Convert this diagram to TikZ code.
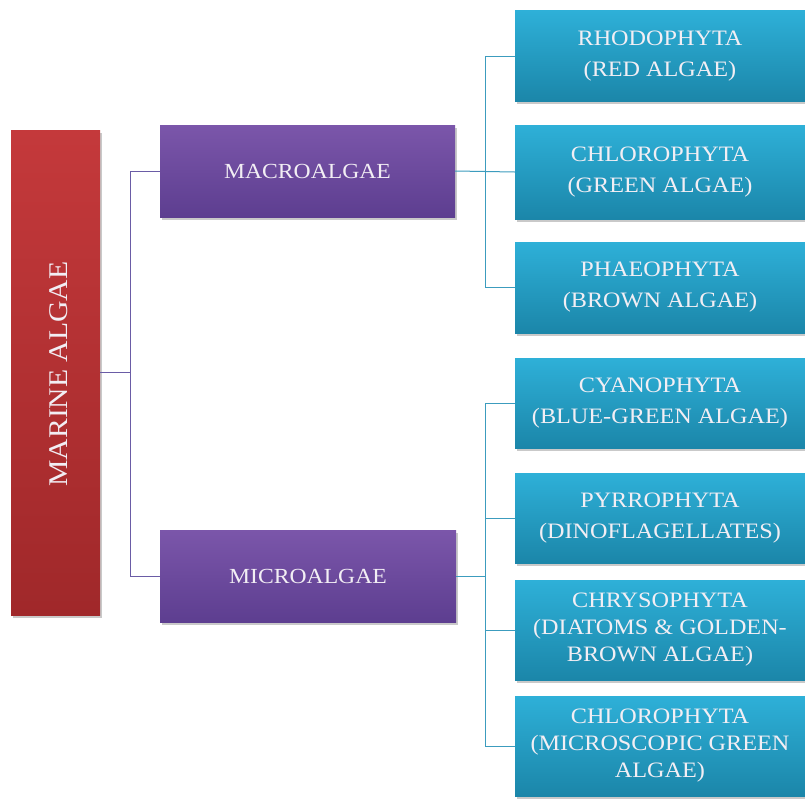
\documentclass[tikz,border=0pt]{standalone}
\usepackage{fontspec}
\setmainfont{Liberation Serif}[FakeStretch=1.1]
\usetikzlibrary{shadows}
\definecolor{redtop}{HTML}{C4393B}
\definecolor{redbot}{HTML}{A0282A}
\definecolor{purtop}{HTML}{7B56AA}
\definecolor{purbot}{HTML}{5D3E90}
\definecolor{cyantop}{HTML}{2EB0D8}
\definecolor{cyanbot}{HTML}{1B86A9}
\definecolor{purline}{HTML}{6A5CA6}
\definecolor{cyanline}{HTML}{3C9CBE}
\definecolor{boxtext}{HTML}{F2EEF4}
\tikzset{
  box/.style={rectangle, inner sep=0pt, align=center, text=boxtext,
    drop shadow={shadow xshift=1.5pt, shadow yshift=-2.5pt, opacity=0.35, fill=black!60}},
  rootbox/.style={box, top color=redtop, bottom color=redbot},
  groupbox/.style={box, top color=purtop, bottom color=purbot, font=\fontsize{21.5}{26}\selectfont},
  leafbox/.style={box, top color=cyantop, bottom color=cyanbot, minimum width=290pt,
    font=\fontsize{22}{31}\selectfont},
  rootline/.style={draw=purline, line width=1pt},
  leafline/.style={draw=cyanline, line width=1pt}
}
\begin{document}
\begin{tikzpicture}[x=1pt,y=-1pt]
  \useasboundingbox (0,0) rectangle (805,798);
  \fill[white] (0,0) rectangle (805,798);

  % root
  \node[rootbox, minimum width=89pt, minimum height=485pt] (root) at (55.5,372.5) {};
  \node[text=boxtext, font=\fontsize{27}{30}\selectfont, rotate=90, inner sep=0pt]
    (roottext) at (59,374) {MARINE ALGAE};

  % groups
  \node[groupbox, minimum width=295pt, minimum height=92pt] (macro) at (307.5,171) {MACROALGAE};
  \node[groupbox, minimum width=296pt, minimum height=92pt] (micro) at (308,576) {MICROALGAE};

  % macroalgae divisions
  \node[leafbox, minimum height=91pt] (rhodo) at (660,56) {RHODOPHYTA\\(RED ALGAE)};
  \node[leafbox, minimum height=94pt] (chloro) at (660,172) {CHLOROPHYTA\\(GREEN ALGAE)};
  \node[leafbox, minimum height=91pt] (phaeo) at (660,287.5) {PHAEOPHYTA\\(BROWN ALGAE)};

  % microalgae divisions
  \node[leafbox, minimum height=90pt] (cyano) at (660,403) {CYANOPHYTA\\(BLUE-GREEN ALGAE)};
  \node[leafbox, minimum height=90pt] (pyrro) at (660,518) {PYRROPHYTA\\(DINOFLAGELLATES)};
  \node[leafbox, minimum height=100pt, font=\fontsize{22}{27}\selectfont] (chryso) at (660,630)
    {CHRYSOPHYTA\\(DIATOMS \& GOLDEN-\\BROWN ALGAE)};
  \node[leafbox, minimum height=100pt, font=\fontsize{22}{27}\selectfont] (chloro2) at (660,746)
    {CHLOROPHYTA\\(MICROSCOPIC GREEN\\ALGAE)};

  % branch points
  \coordinate (rj) at (130,0);
  \coordinate (lj) at (485,0);

  % connectors from the root
  \draw[rootline] (root.east) -- (root.east -| rj);
  \draw[rootline] (macro.west) -- (macro.west -| rj) -- (micro.west -| rj) -- (micro.west);

  % connectors to the macroalgae divisions
  \draw[leafline] (macro.east) -- (chloro.west);
  \draw[leafline] (rhodo.west) -- (rhodo.west -| lj) -- (phaeo.west -| lj) -- (phaeo.west);

  % connectors to the microalgae divisions
  \draw[leafline] (micro.east) -- (micro.east -| lj);
  \draw[leafline] (cyano.west) -- (cyano.west -| lj) -- (chloro2.west -| lj) -- (chloro2.west);
  \draw[leafline] (pyrro.west -| lj) -- (pyrro.west);
  \draw[leafline] (chryso.west -| lj) -- (chryso.west);
\end{tikzpicture}
\end{document}
